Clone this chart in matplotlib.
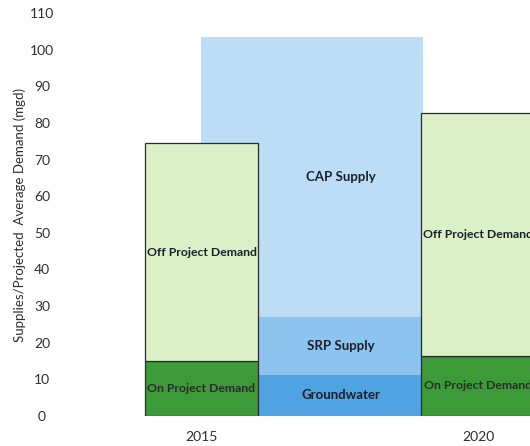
import matplotlib
matplotlib.use("Agg")
import matplotlib.pyplot as plt

# data (mgd)
years = ["2015", "2020"]
on_project = [15.0, 16.4]
off_project = [59.5, 66.3]
supply_names = ["Groundwater", "SRP Supply", "CAP Supply"]
supply_values = [11.2, 15.8, 76.4]
y_ticks = list(range(0, 111, 10))

plt.rcParams["font.family"] = ["Lato", "DejaVu Sans"]

fig = plt.figure(figsize=(5.3, 4.46), dpi=100)
ax = fig.add_axes([60 / 530, 30 / 446, 470 / 530, 403 / 446])

x_pos = [0, 1]
bar_w = 0.41
sup_x, sup_w = 0.4, 0.8
txt_col = "#1c1f2a"

# supply column sits between the two years, behind the demand bars
supply_cols = ["#4fa3e2", "#8dc4ef", "#bddcf6"]
label_x = (bar_w / 2 + sup_x + sup_w / 2) / 2  # middle of the visible part
bottom = 0
for name, val, col in zip(supply_names, supply_values, supply_cols):
    ax.bar(sup_x, val, width=sup_w, bottom=bottom, color=col, zorder=1)
    ax.text(label_x, bottom + val / 2, name, ha="center", va="center",
            fontsize=9.5, fontweight="bold", color=txt_col, zorder=5)
    bottom += val

ax.bar(x_pos, on_project, width=bar_w, color="#3d9a38",
       edgecolor="#2a2a2a", linewidth=0.9, zorder=2)
ax.bar(x_pos, off_project, width=bar_w, bottom=on_project, color="#dcf0c8",
       edgecolor="#2a2a2a", linewidth=0.9, zorder=2)

for x, on, off in zip(x_pos, on_project, off_project):
    ax.text(x, on / 2, "On Project Demand", ha="center", va="center",
            fontsize=8.8, fontweight="bold", color="#2b2b2b", zorder=5)
    ax.text(x, on + off / 2, "Off Project Demand", ha="center", va="center",
            fontsize=8.8, fontweight="bold", color=txt_col, zorder=5)

ax.set_xlim((60 - 201.5) / 276.5, (530 - 201.5) / 276.5)
ax.set_ylim(0, 110)
ax.set_yticks(y_ticks)
ax.set_yticklabels([str(t) for t in y_ticks], ha="center")
ax.set_xticks(x_pos)
ax.set_xticklabels(years)
ax.tick_params(axis="y", length=0, pad=13, labelsize=10, labelcolor="#2e2e2e")
ax.tick_params(axis="x", length=0, pad=11, labelsize=10, labelcolor="#2e2e2e")
for s in ax.spines.values():
    s.set_visible(False)

ax.set_ylabel("Supplies/Projected  Average Demand (mgd)", fontsize=9.5,
              color="#2e2e2e")
ax.yaxis.set_label_coords(-34 / 470, 0.5)

fig.savefig("out.png", dpi=100)
